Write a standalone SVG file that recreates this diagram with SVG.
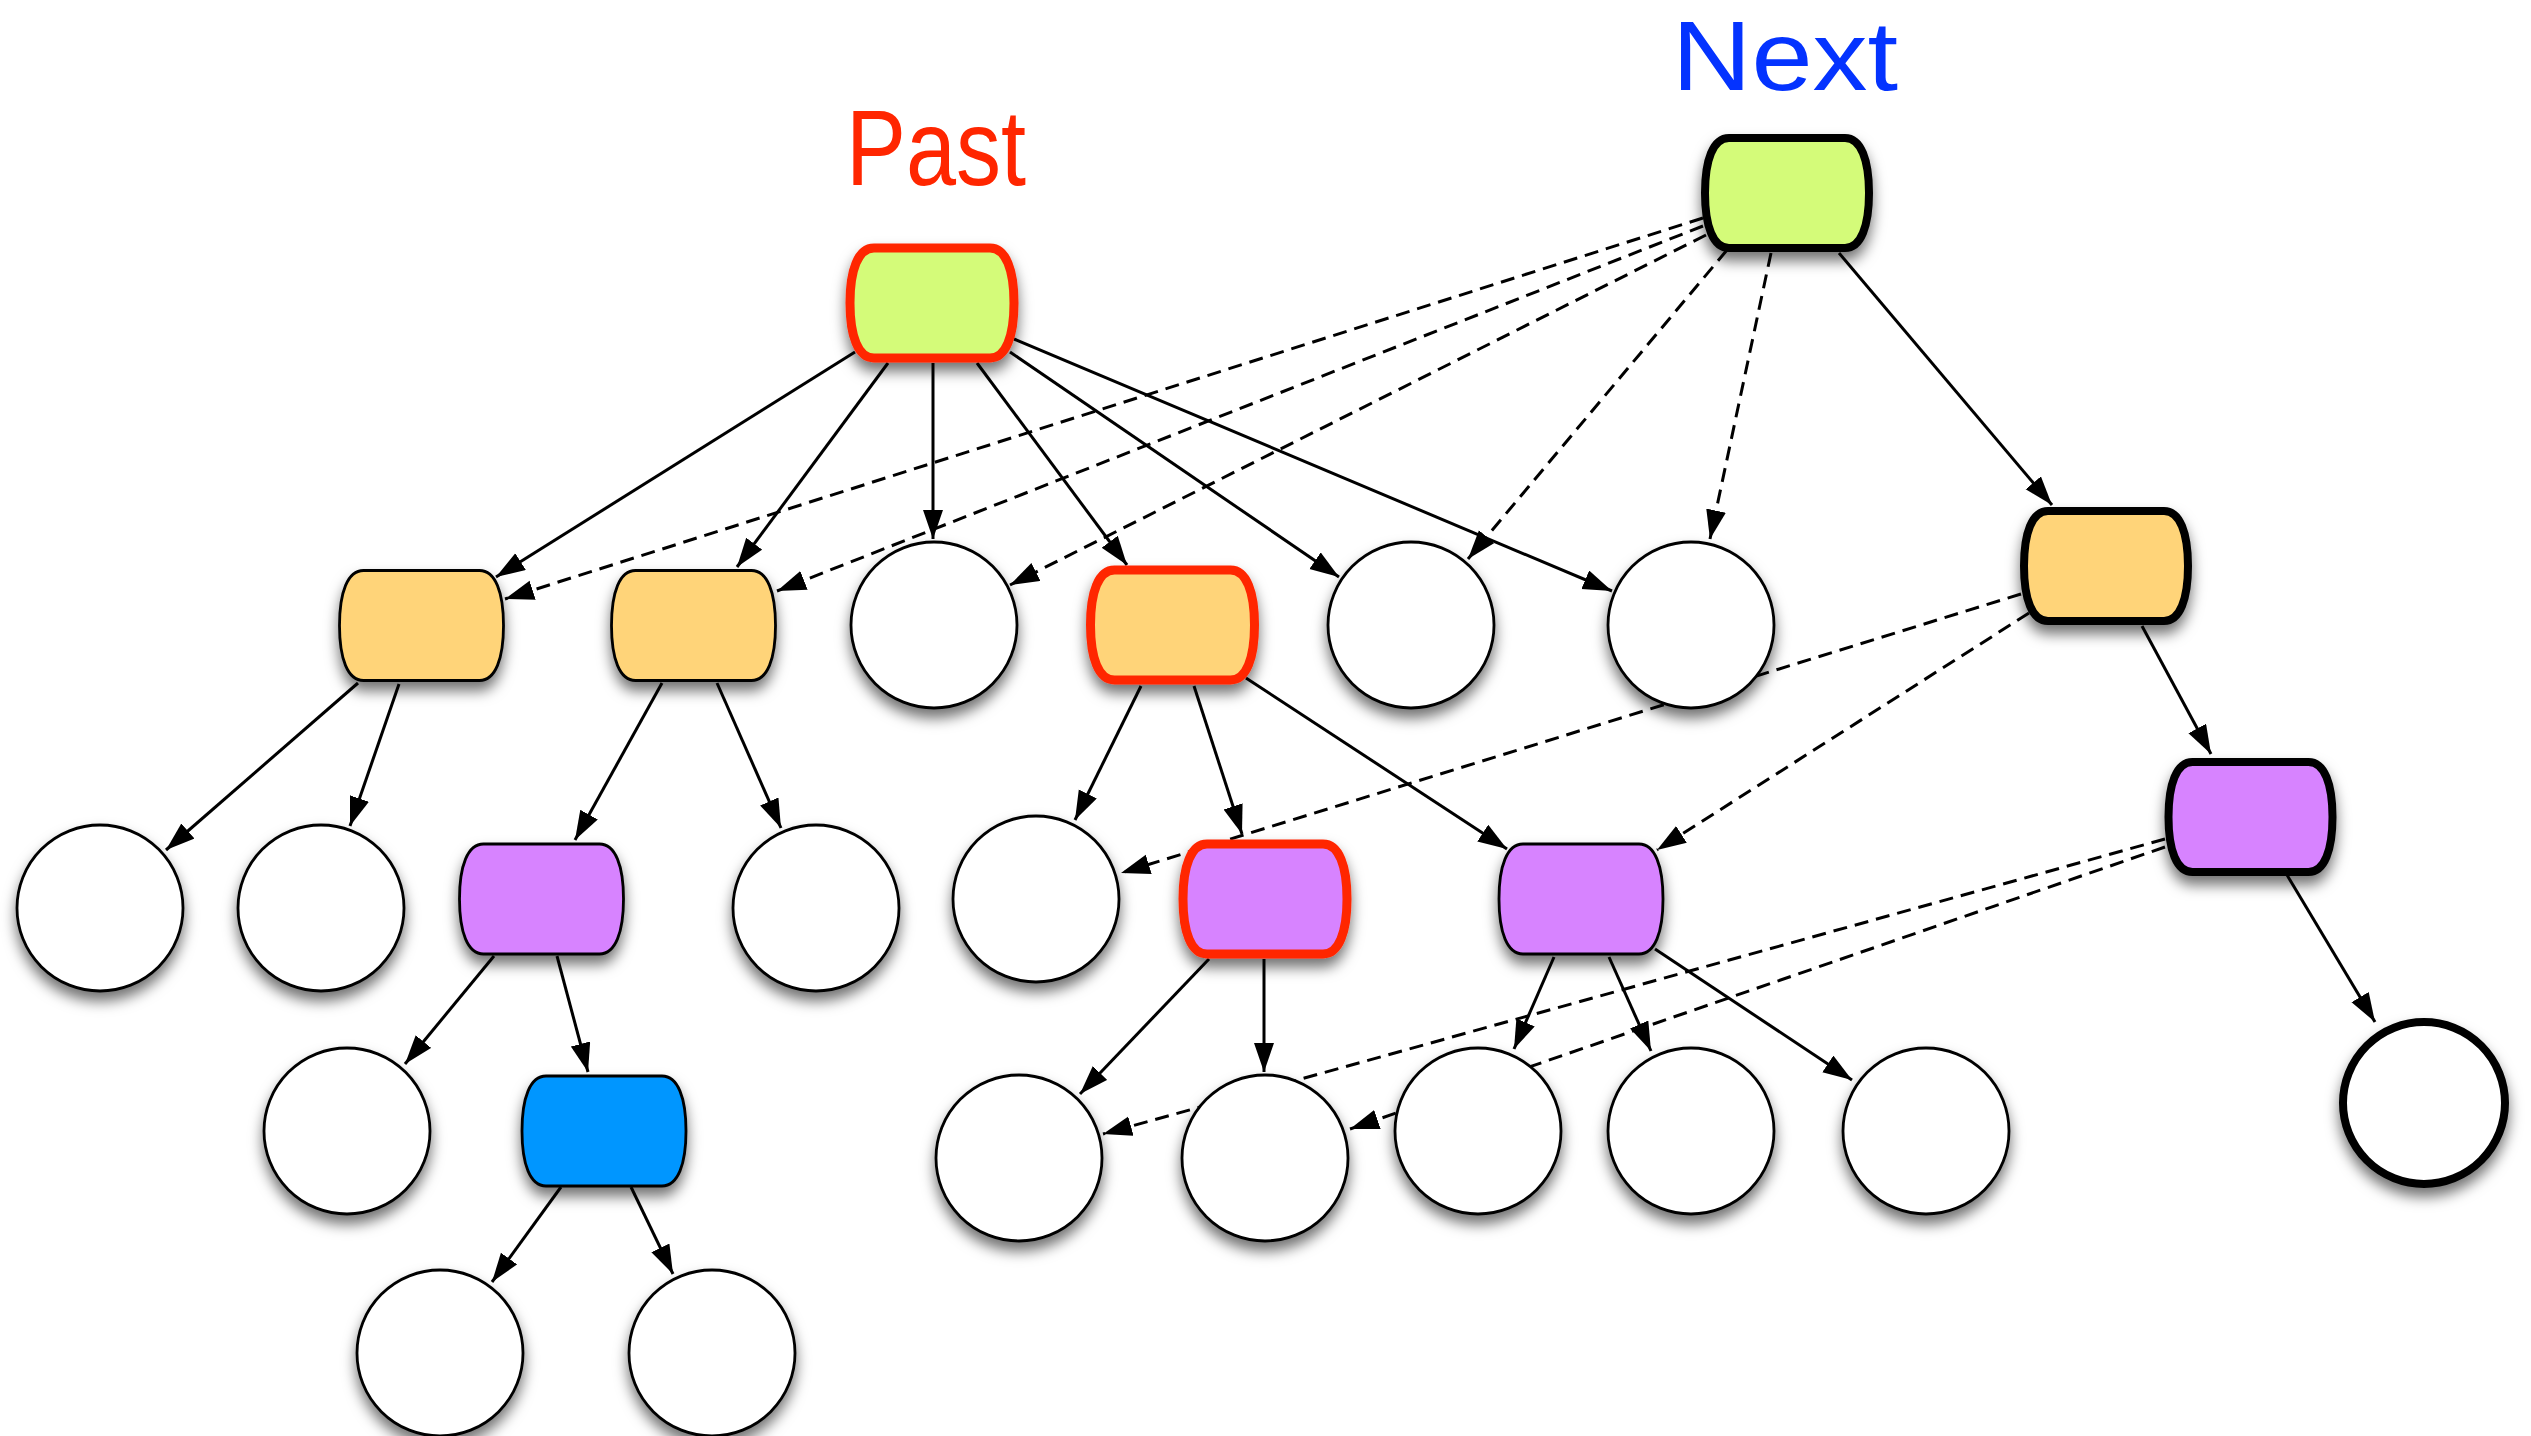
<svg xmlns="http://www.w3.org/2000/svg" xmlns:xlink="http://www.w3.org/1999/xlink" width="2531" height="1436" viewBox="0 0 2531 1436">
<style>
.bg{fill:#ffffff}
.e{fill:none;stroke:#000;stroke-width:3;marker-end:url(#ah)}
.d{stroke-dasharray:14 8}
.thin{stroke:#000;stroke-width:2.8}
.thick{stroke:#000;stroke-width:8}
.red{stroke:#FF2600;stroke-width:9}
.green{fill:#D4FB79}
.orange{fill:#FFD479}
.purple{fill:#D783FF}
.blue{fill:#0096FF}
.white{fill:#FFFFFF}
.node{filter:url(#sh)}
.lbl{font-family:"Liberation Sans",Arial,sans-serif}
</style>
<defs>
<filter id="sh" x="-30%" y="-30%" width="160%" height="170%">
<feDropShadow dx="0" dy="9" stdDeviation="7" flood-color="#000" flood-opacity="0.55"/>
</filter>
<marker id="ah" markerUnits="userSpaceOnUse" markerWidth="32" markerHeight="22" refX="29" refY="10" orient="auto">
<path d="M0,0 L29,10 L0,20 Z" fill="#000"/>
</marker>
<path id="barrel" d="M -58,-55 H 58 C 74,-55 82,-33 82,0 C 82,33 74,55 58,55 H -58 C -74,55 -82,33 -82,0 C -82,-33 -74,-55 -58,-55 Z"/>
</defs>
<rect class="bg" x="0" y="0" width="2531" height="1436"/>

<text class="lbl" x="846" y="185" font-size="107" fill="#FF2600" textLength="180" lengthAdjust="spacingAndGlyphs">Past</text>
<text class="lbl" x="1672" y="90" font-size="99" fill="#0433FF" textLength="226" lengthAdjust="spacingAndGlyphs">Next</text>

<g id="connectors">
<line class="e" x1="855" y1="352" x2="496" y2="577"/>
<line class="e" x1="888" y1="363" x2="737" y2="567"/>
<line class="e" x1="933" y1="363" x2="933" y2="539"/>
<line class="e" x1="977" y1="363" x2="1127" y2="565"/>
<line class="e" x1="1010" y1="352" x2="1339" y2="577"/>
<line class="e" x1="1014" y1="339" x2="1612" y2="591"/>
<line class="e" x1="1839" y1="253" x2="2052" y2="505"/>
<line class="e" x1="358" y1="683" x2="166" y2="850"/>
<line class="e" x1="399" y1="684" x2="350" y2="826"/>
<line class="e" x1="662" y1="683" x2="575" y2="840"/>
<line class="e" x1="717" y1="683" x2="781" y2="828"/>
<line class="e" x1="494" y1="956" x2="405" y2="1064"/>
<line class="e" x1="557" y1="956" x2="588" y2="1072"/>
<line class="e" x1="561" y1="1187" x2="492" y2="1282"/>
<line class="e" x1="631" y1="1187" x2="673" y2="1274"/>
<line class="e" x1="1141" y1="686" x2="1075" y2="820"/>
<line class="e" x1="1194" y1="686" x2="1242" y2="834"/>
<line class="e" x1="1246" y1="678" x2="1507" y2="849"/>
<line class="e" x1="2142" y1="626" x2="2211" y2="754"/>
<line class="e" x1="2287" y1="875" x2="2375" y2="1022"/>
<line class="e" x1="1209" y1="959" x2="1080" y2="1094"/>
<line class="e" x1="1264" y1="959" x2="1264" y2="1072"/>
<line class="e" x1="1554" y1="957" x2="1514" y2="1049"/>
<line class="e" x1="1609" y1="957" x2="1651" y2="1051"/>
<line class="e" x1="1655" y1="949" x2="1852" y2="1080"/>
<line class="e d" x1="1703" y1="218" x2="505" y2="599"/>
<line class="e d" x1="1703" y1="226" x2="777" y2="591"/>
<line class="e d" x1="1706" y1="235" x2="1010" y2="585"/>
<line class="e d" x1="1727" y1="250" x2="1468" y2="559"/>
<line class="e d" x1="1771" y1="253" x2="1710" y2="539"/>
<line class="e d" x1="2021" y1="594" x2="1121" y2="873"/>
<line class="e d" x1="2029" y1="613" x2="1657" y2="850"/>
<line class="e d" x1="2165" y1="839" x2="1103" y2="1134"/>
<line class="e d" x1="2165" y1="847" x2="1350" y2="1129"/>
</g>

<g id="past" class="node"><use href="#barrel" class="green red" transform="translate(932,303)"/></g>
<g id="next" class="node"><use href="#barrel" class="green thick" transform="translate(1787,193)"/></g>
<g id="a" class="node"><use href="#barrel" class="orange thin" transform="translate(421.5,625.5)"/></g>
<g id="b" class="node"><use href="#barrel" class="orange thin" transform="translate(693.5,625.5)"/></g>
<g id="c1" class="node"><circle cx="934" cy="625" r="83" class="white thin"/></g>
<g id="d" class="node"><use href="#barrel" class="orange red" transform="translate(1172.5,625)"/></g>
<g id="c2" class="node"><circle cx="1411" cy="625" r="83" class="white thin"/></g>
<g id="c3" class="node"><circle cx="1691" cy="625" r="83" class="white thin"/></g>
<g id="e" class="node"><use href="#barrel" class="orange thick" transform="translate(2106,566)"/></g>
<g id="l1" class="node"><circle cx="100" cy="908" r="83" class="white thin"/></g>
<g id="l2" class="node"><circle cx="321" cy="908" r="83" class="white thin"/></g>
<g id="p1" class="node"><use href="#barrel" class="purple thin" transform="translate(541.5,899)"/></g>
<g id="l3" class="node"><circle cx="816" cy="908" r="83" class="white thin"/></g>
<g id="l4" class="node"><circle cx="1036" cy="899" r="83" class="white thin"/></g>
<g id="p2" class="node"><use href="#barrel" class="purple red" transform="translate(1265,899)"/></g>
<g id="p3" class="node"><use href="#barrel" class="purple thin" transform="translate(1581,899)"/></g>
<g id="p4" class="node"><use href="#barrel" class="purple thick" transform="translate(2250.5,817)"/></g>
<g id="m1" class="node"><circle cx="347" cy="1131" r="83" class="white thin"/></g>
<g id="blue" class="node"><use href="#barrel" class="blue thin" transform="translate(604,1131)"/></g>
<g id="n1" class="node"><circle cx="1019" cy="1158" r="83" class="white thin"/></g>
<g id="n2" class="node"><circle cx="1265" cy="1158" r="83" class="white thin"/></g>
<g id="n3" class="node"><circle cx="1478" cy="1131" r="83" class="white thin"/></g>
<g id="n4" class="node"><circle cx="1691" cy="1131" r="83" class="white thin"/></g>
<g id="n5" class="node"><circle cx="1926" cy="1131" r="83" class="white thin"/></g>
<g id="r" class="node"><circle cx="2424" cy="1103" r="81" class="white thick"/></g>
<g id="b1" class="node"><circle cx="440" cy="1353" r="83" class="white thin"/></g>
<g id="b2" class="node"><circle cx="712" cy="1353" r="83" class="white thin"/></g>
</svg>
